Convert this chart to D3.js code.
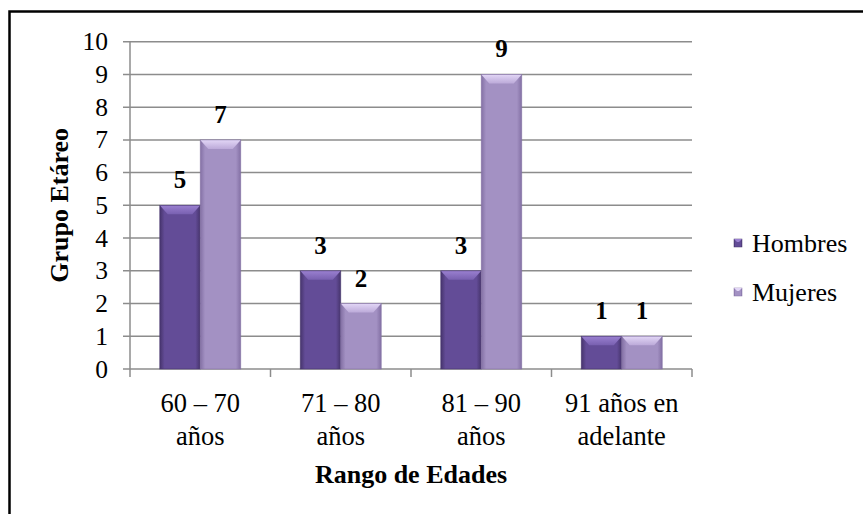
<!DOCTYPE html>
<html>
<head>
<meta charset="utf-8">
<script src="https://cdn.jsdelivr.net/npm/d3@7"></script>
<style>
  html, body { margin: 0; padding: 0; background: #fff; }
  svg { display: block; }
</style>
</head>
<body>
<svg id="chart" width="863" height="514" font-family="'Liberation Serif', 'Times New Roman', Times, 'DejaVu Serif', serif"></svg>
<script>
const categories = ["60 – 70\naños", "71 – 80\naños", "81 – 90\naños", "91 años en\nadelante"];
const seriesNames = ["Hombres", "Mujeres"];
const hombres = [5, 3, 3, 1];
const mujeres = [7, 2, 9, 1];
const yTicks = [0, 1, 2, 3, 4, 5, 6, 7, 8, 9, 10];
const xTitle = "Rango de Edades";
const yTitle = "Grupo Etáreo";

const FONT = "'Liberation Serif', 'Times New Roman', Times, 'DejaVu Serif', serif";
const plot = { left: 130, right: 692, top: 41.7, bottom: 369 };

const svg = d3.select("#chart");

// outer frame
svg.append("rect")
  .attr("x", 9.5).attr("y", 11.5)
  .attr("width", 860).attr("height", 520)
  .attr("fill", "#fff").attr("stroke", "#000").attr("stroke-width", 2.5);

const x0 = d3.scaleBand().domain(categories).range([plot.left, plot.right]).padding(0);
const x1 = d3.scaleBand().domain(seriesNames).range([0, x0.bandwidth()]).paddingInner(0).paddingOuter(0.735);
const y = d3.scaleLinear().domain([0, 10]).range([plot.bottom, plot.top]);

const palettes = {
  Hombres: { edge: "#46346c", mid: "#634c97", top1: "#9a80d0", top2: "#7860b0" },
  Mujeres: { edge: "#8370a4", mid: "#a391c3", top1: "#e2d6f6", top2: "#bcaad9" }
};

const defs = svg.append("defs");
seriesNames.forEach(s => {
  const p = palettes[s];
  const g = defs.append("linearGradient").attr("id", "g-" + s).attr("x1", 0).attr("x2", 1).attr("y1", 0).attr("y2", 0);
  g.append("stop").attr("offset", "0%").attr("stop-color", p.edge);
  g.append("stop").attr("offset", "12%").attr("stop-color", p.mid);
  g.append("stop").attr("offset", "88%").attr("stop-color", p.mid);
  g.append("stop").attr("offset", "100%").attr("stop-color", p.edge);
  const t = defs.append("linearGradient").attr("id", "t-" + s).attr("x1", 0).attr("x2", 0).attr("y1", 0).attr("y2", 1);
  t.append("stop").attr("offset", "0%").attr("stop-color", p.top1);
  t.append("stop").attr("offset", "100%").attr("stop-color", p.top2);
});

// gridlines
svg.append("g").selectAll("line").data(yTicks).join("line")
  .attr("x1", plot.left - 7).attr("x2", plot.right)
  .attr("y1", d => y(d)).attr("y2", d => y(d))
  .attr("stroke", "#8c8c8c").attr("stroke-width", 1.5);

// y axis line
svg.append("line")
  .attr("x1", plot.left).attr("x2", plot.left)
  .attr("y1", y(10)).attr("y2", y(0))
  .attr("stroke", "#8c8c8c").attr("stroke-width", 1.5);

// x ticks at band edges
const edges = categories.map(c => x0(c)).concat([plot.right]);
svg.append("g").selectAll("line").data(edges).join("line")
  .attr("x1", d => d).attr("x2", d => d)
  .attr("y1", y(0)).attr("y2", y(0) + 8)
  .attr("stroke", "#8c8c8c").attr("stroke-width", 1.5);

// y tick labels
svg.append("g").selectAll("text").data(yTicks).join("text")
  .attr("x", plot.left - 22).attr("y", d => y(d) + 8.5)
  .attr("text-anchor", "end")
  .attr("font-family", FONT)
  .attr("font-size", 25.5)
  .text(d => d);

// bars
const data = [];
categories.forEach((c, i) => {
  data.push({ cat: c, s: "Hombres", v: hombres[i] });
  data.push({ cat: c, s: "Mujeres", v: mujeres[i] });
});

const bars = svg.append("g");
data.forEach(d => {
  const bx = x0(d.cat) + x1(d.s);
  const bw = x1.bandwidth();
  const by = y(d.v);
  const bh = y(0) - by;
  const g = bars.append("g");
  g.append("rect").attr("x", bx).attr("y", by).attr("width", bw).attr("height", bh)
    .attr("fill", `url(#g-${d.s})`);
  const bev = Math.min(9, bh);
  const ind = 8;
  g.append("path")
    .attr("d", `M${bx},${by} L${bx + bw},${by} L${bx + bw - ind},${by + bev} L${bx + ind},${by + bev} Z`)
    .attr("fill", `url(#t-${d.s})`);
  g.append("rect").attr("x", bx).attr("y", by).attr("width", bw).attr("height", bh)
    .attr("fill", "none").attr("stroke", palettes[d.s].edge).attr("stroke-width", 0.8).attr("stroke-opacity", 0.7);
  svg.append("text")
    .attr("x", bx + bw / 2).attr("y", by - 17)
    .attr("text-anchor", "middle")
    .attr("font-family", FONT)
    .attr("font-size", 25).attr("font-weight", "bold")
    .text(d.v);
});

// category labels
const catG = svg.append("g");
categories.forEach(c => {
  const lines = c.split("\n");
  const cx = x0(c) + x0.bandwidth() / 2;
  const t = catG.append("text")
    .attr("x", cx).attr("y", 412)
    .attr("text-anchor", "middle")
    .attr("font-family", FONT)
    .attr("font-size", 26.5);
  lines.forEach((l, i) => {
    t.append("tspan").attr("x", cx).attr("dy", i === 0 ? 0 : 33).text(l);
  });
});

// axis titles
svg.append("text")
  .attr("x", (plot.left + plot.right) / 2).attr("y", 483)
  .attr("text-anchor", "middle")
  .attr("font-family", FONT)
  .attr("font-size", 26).attr("font-weight", "bold")
  .text(xTitle);

svg.append("text")
  .attr("transform", `translate(68,${(plot.top + plot.bottom) / 2}) rotate(-90)`)
  .attr("text-anchor", "middle")
  .attr("font-family", FONT)
  .attr("font-size", 26).attr("font-weight", "bold")
  .text(yTitle);

// legend
const leg = svg.append("g");
seriesNames.forEach((s, i) => {
  const ly = 243 + i * 49;
  leg.append("rect").attr("x", 734).attr("y", ly - 4).attr("width", 8).attr("height", 8)
    .attr("fill", `url(#g-${s})`).attr("stroke", palettes[s].edge).attr("stroke-width", 0.5);
  leg.append("path")
    .attr("d", `M734,${ly - 4} L742,${ly - 4} L739,${ly - 1} L737,${ly - 1} Z`)
    .attr("fill", palettes[s].top1);
  leg.append("text").attr("x", 752).attr("y", ly + 9)
    .attr("font-family", FONT)
    .attr("font-size", 26).text(s);
});
</script>
</body>
</html>
